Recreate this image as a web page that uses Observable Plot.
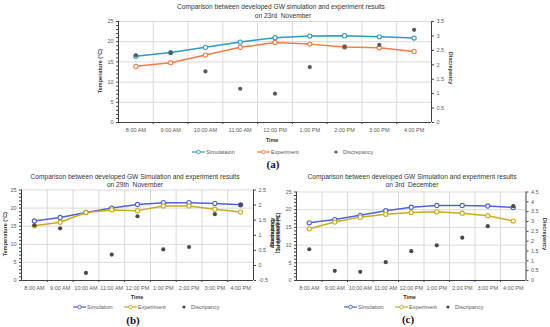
<!DOCTYPE html>
<html><head><meta charset="utf-8">
<script src="https://cdn.jsdelivr.net/npm/d3@7"></script>
<script src="https://cdn.jsdelivr.net/npm/@observablehq/plot@0.6"></script>
<style>
body{margin:0;background:#fff;}
#root{position:relative;width:550px;height:327px;overflow:hidden;background:#fff;}
#root svg{position:absolute;left:0;top:0;}
</style>
</head><body><div id="root"></div>
<script>
const times = ["8:00 AM","9:00 AM","10:00 AM","11:00 AM","12:00 PM","1:00 PM","2:00 PM","3:00 PM","4:00 PM"];
// (a) 23rd November
const simA = [16.4,17.3,18.6,19.9,21.0,21.4,21.5,21.2,20.9];
const expA = [13.9,14.8,16.7,18.6,19.8,19.4,18.7,18.5,17.6];
const discA = [2.33,2.41,1.77,1.17,1.0,1.92,2.62,2.69,3.21];
// (b) 29th November
const simB = [16.45,17.4,18.8,20.0,21.0,21.5,21.5,21.3,20.9];
const expB = [15.1,16.1,18.8,19.5,19.3,20.6,20.6,19.7,18.9];
const discB = [1.33,1.23,-0.25,0.36,1.63,0.53,0.61,1.70,2.01];
// (c) 3rd December
const simC = [16.3,17.2,18.4,19.7,20.7,21.2,21.2,21.05,20.6];
const expC = [14.6,16.5,17.9,18.7,19.2,19.4,19.0,18.3,16.8];
const discC = [1.59,0.49,0.44,0.93,1.49,1.79,2.18,2.76,3.78];

const FONT = '"Liberation Sans", Arial, sans-serif';
const AX = "#404040", LBL = "#595959";

function chart(cfg) {
  const {sim, exp, disc, dmin, dmax, ml, mr, mt, mb, simColor, expColor, discColor} = cfg;
  const toY = d => (d - dmin) / (dmax - dmin) * 25;
  const rows = times.map((t, i) => ({i, t, sim: sim[i], exp: exp[i], dy: toY(disc[i])}));
  const rTicks = d3.range(0, Math.round((dmax - dmin) / 0.5) + 1).map(k => dmin + k * 0.5);
  const fmtR = v => String(+(v / 25 * (dmax - dmin) + dmin).toFixed(1));
  return Plot.plot({
    width: 550, height: 327,
    marginLeft: ml, marginRight: mr, marginTop: mt, marginBottom: mb,
    style: {background: "transparent", fontFamily: FONT, overflow: "visible"},
    x: {domain: [-0.5, 8.5], axis: null},
    y: {domain: [0, 25], axis: null},
    marks: [
      Plot.gridY(d3.range(0, 26, 5), {stroke: "#d9d9d9", strokeOpacity: 1}),
      Plot.gridX(d3.range(0.5, 8, 1), {stroke: "#d9d9d9", strokeOpacity: 1}),
      Plot.ruleX([-0.5], {stroke: AX}),
      Plot.ruleX([8.5], {stroke: AX}),
      Plot.ruleY([0], {stroke: AX}),
      Plot.axisY(d3.range(0, 26, 5), {anchor: "left", tickSize: 0, tickPadding: 5, fontSize: 5.5, fill: LBL, label: null}),
      Plot.axisY(d3.range(0, 26, 1), {anchor: "left", tickSize: 2, tickFormat: () => "", stroke: AX, label: null}),
      Plot.axisY(rTicks.map(toY), {anchor: "right", tickSize: 2, tickPadding: 3, fontSize: 5.5, fill: LBL, stroke: AX, tickFormat: fmtR, label: null}),
      Plot.axisX(d3.range(0, 9), {anchor: "bottom", tickSize: 0, tickPadding: 6, fontSize: 5.5, fill: LBL, tickFormat: i => times[i], label: null}),
      Plot.axisX(d3.range(0.5, 8, 1), {anchor: "bottom", tickSize: 2, stroke: AX, tickFormat: () => "", label: null}),
      Plot.line(rows, {x: "i", y: "sim", stroke: simColor, strokeWidth: 1.5}),
      Plot.line(rows, {x: "i", y: "exp", stroke: expColor, strokeWidth: 1.5}),
      Plot.dot(rows, {x: "i", y: "sim", stroke: simColor, fill: "white", r: 2.1, strokeWidth: 1.1}),
      Plot.dot(rows, {x: "i", y: "exp", stroke: expColor, fill: "white", r: 2.1, strokeWidth: 1.1}),
      Plot.dot(rows, {x: "i", y: "dy", fill: discColor, r: 2.1})
    ]
  });
}

const root = document.getElementById("root");
const A_SIM = "#2E9AC4", A_EXP = "#F47A46", A_DIS = "#5a5a5a";
const B_SIM = "#4F63D6", B_EXP = "#C9AA1C", B_DIS = "#4a4a4a";

root.appendChild(chart({sim: simA, exp: expA, disc: discA, dmin: 0, dmax: 3.5,
  ml: 118, mr: 119, mt: 21, mb: 327 - 122, simColor: A_SIM, expColor: A_EXP, discColor: A_DIS}));
root.appendChild(chart({sim: simB, exp: expB, disc: discB, dmin: -0.5, dmax: 2.5,
  ml: 21, mr: 297, mt: 189.5, mb: 47, simColor: B_SIM, expColor: B_EXP, discColor: B_DIS}));
root.appendChild(chart({sim: simC, exp: expC, disc: discC, dmin: 0, dmax: 4.5,
  ml: 296, mr: 24.5, mt: 191.5, mb: 47, simColor: B_SIM, expColor: B_EXP, discColor: B_DIS}));

// overlay for titles, axis titles, legends, captions
const ov = d3.select(root).append("svg").attr("width", 550).attr("height", 327)
  .style("font-family", FONT);
function txt(x, y, s, o = {}) {
  ov.append("text")
    .attr("transform", `translate(${x},${y}) rotate(${o.rotate || 0})`)
    .attr("text-anchor", o.anchor || "middle")
    .attr("dominant-baseline", "central")
    .attr("font-size", o.size || 5.5)
    .attr("font-weight", o.weight || "normal")
    .attr("font-family", o.family || FONT)
    .attr("fill", o.fill || LBL)
    .style("white-space", "pre")
    .text(s);
}
function legLine(x, y, color, label) {
  ov.append("line").attr("x1", x).attr("x2", x + 13).attr("y1", y).attr("y2", y)
    .attr("stroke", color).attr("stroke-width", 1.2);
  ov.append("circle").attr("cx", x + 6.5).attr("cy", y).attr("r", 1.8)
    .attr("fill", "white").attr("stroke", color).attr("stroke-width", 0.9);
  txt(x + 14, y, label, {anchor: "start"});
}
function legDot(x, y, color, label) {
  ov.append("circle").attr("cx", x).attr("cy", y).attr("r", 1.6).attr("fill", color);
  txt(x + 7, y, label, {anchor: "start"});
}
const TT = {size: 6.6, fill: "#333"};
const BOLD = {weight: "bold", fill: "#333", size: 5.5};
const SMALLB = {weight: "bold", fill: "#333", size: 4.8};
const CAP = {size: 11, weight: "bold", fill: "#111", family: '"Liberation Serif", "DejaVu Serif", serif'};

// (a)
txt(281, 6, "Comparison between developed GW simulation and experiment results", TT);
txt(283, 15, "on 23rd  November", TT);
txt(100, 71, "Temperature (°C)", {...BOLD, rotate: -90});
txt(451, 68, "Discrepancy", {...BOLD, rotate: 90});
txt(272, 140, "Time", BOLD);
legLine(192, 152, A_SIM, "Simulataion");
legLine(257, 152, A_EXP, "Experiment");
legDot(336, 152, A_DIS, "Discrepancy");
txt(273, 163.5, "(a)", CAP);

// (b)
txt(135, 176, "Comparison between developed GW Simulation and experiment results", TT);
txt(135, 184.7, "on 29th  November", TT);
txt(4.5, 234, "Temperature (°C)", {...BOLD, rotate: -90});
txt(272, 234, "Discrepancy", {...SMALLB, rotate: 90});
txt(277.8, 234, "Temperature (°C)", {...SMALLB, rotate: 90});
txt(137, 296.7, "Time", BOLD);
legLine(73, 307, B_SIM, "Simulation");
legLine(124, 307, B_EXP, "Experiment");
legDot(184, 307, B_DIS, "Discripancy");
txt(133, 319.5, "(b)", CAP);

// (c)
txt(412, 176, "Comparison between developed GW Simulation and experiment results", TT);
txt(412, 184.7, "on 3rd  December", TT);
txt(272.4, 232, "Discrepancy", {...SMALLB, rotate: -90});
txt(278, 232, "Temperature (°C)", {...SMALLB, rotate: -90});
txt(545, 234, "Discrepancy", {...BOLD, rotate: 90});
txt(409.5, 297.3, "Time", BOLD);
legLine(344, 307, B_SIM, "Simulation");
legLine(395, 307, B_EXP, "Experiment");
legDot(448, 307, B_DIS, "Discripancy");
txt(408, 318.5, "(c)", CAP);
</script>
</body></html>
